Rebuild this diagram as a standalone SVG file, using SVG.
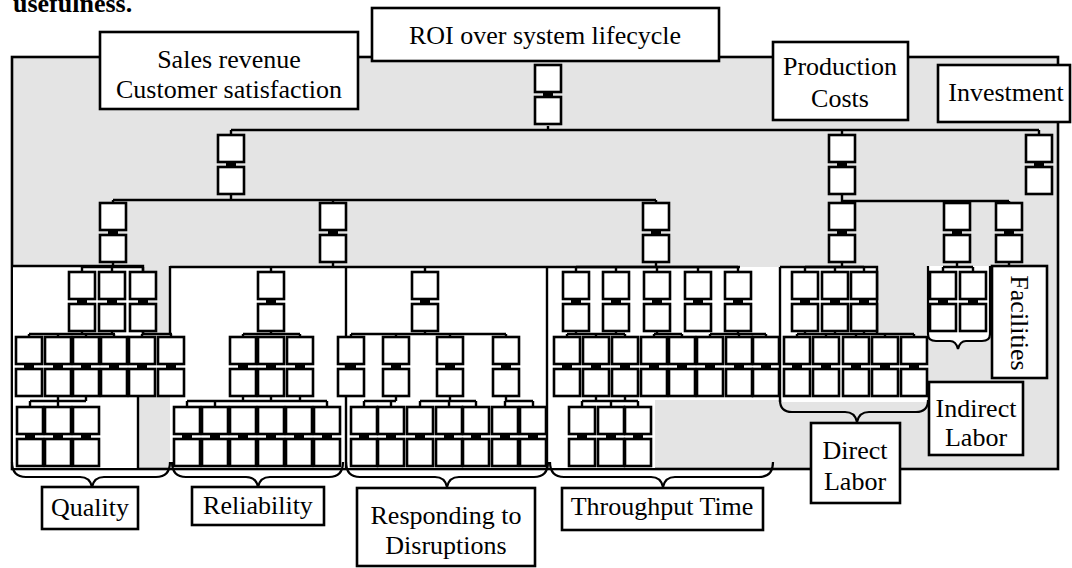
<svg xmlns="http://www.w3.org/2000/svg" xmlns:xlink="http://www.w3.org/1999/xlink" width="1072" height="568" viewBox="0 0 1072 568">
<style>
.b{fill:#fff;stroke:#000;stroke-width:2.6}
.k{fill:#000}
.c{fill:none;stroke:#000;stroke-width:2.4}
.p{fill:#fff;stroke:none}
.br{fill:none;stroke:#000;stroke-width:2.2}
.lb{fill:#fff;stroke:#000;stroke-width:2.6}
.t{font-family:"Liberation Serif","Times New Roman",serif;font-size:26px;text-anchor:middle;fill:#000}
</style>
<defs>
<g id="pair">
<rect class="b" x="0" y="0" width="26" height="27"/>
<rect class="k" x="8" y="26" width="10" height="7"/>
<rect class="b" x="0" y="32" width="26" height="27"/>
</g>
</defs>
<rect width="1072" height="568" fill="#fff"/>
<text x="13" y="12" style="font-family:'Liberation Serif',serif;font-size:26px;font-weight:bold">usefulness.</text>
<g id="frame">
<rect x="12" y="57" width="1046" height="412" fill="#e4e4e4" stroke="#000" stroke-width="2.6"/>
<polygon class="p" points="12,266 143,266 143,335 170,335 170,397 138,397 138,468 13,468 13,266"/>
<rect class="p" x="170" y="267" width="176" height="201"/>
<rect class="p" x="346" y="267" width="201" height="201"/>
<polygon class="p" points="547,267 780,267 780,400 655,400 655,468 547,468"/>
<polygon class="p" points="780,267 877,267 877,335 928,335 928,402 780,402"/>
<path class="p" d="M928,266 H990 V334 Q990,341 982,341 H966 Q960,341 958,349 Q956,341 950,341 H936 Q928,341 928,334 Z"/>
<path class="c" d="M12,266 H143 V335 M170,266 V335 M346,267 V469 M547,267 V469 M780,267 V402 M780,267 H877 V335 M138,397 V469 M170,267 H740"/>
<path class="br" d="M928,266 V334 Q928,341 936,341 H950 Q956,341 958,349 Q960,341 966,341 H982 Q990,341 990,334 V266"/>
</g>
<g id="connectors">
<path class="c" d="M548,126 V130 M231,130 H1039 M231,130 V135 M842,130 V135 M1039,130 V135"/>
<path class="c" d="M231,194 V200 M113,200 H656 M113,200 V203 M333,200 V203 M656,200 V203"/>
<path class="c" d="M842,194 V203 M842,201 H1009 M957,201 V203 M1009,201 V203"/>
<path class="c" d="M113,262 V267 M82,267 H143 M82,267 V272 M112,267 V272 M143,267 V272"/>
<path class="c" d="M333,262 V267 M271,267 V272 M425,267 V272"/>
<path class="c" d="M656,262 V267 M576,267 H738 M576,267 V272 M616,267 V272 M657,267 V272 M698,267 V272 M738,267 V272"/>
<path class="c" d="M842,262 V267 M805,267 H864 M805,267 V272 M835,267 V272 M864,267 V272"/>
<path class="c" d="M957,262 V267 M943,267 H973 M943,267 V272 M973,267 V272 M1009,262 V266"/>
<path class="c" d="M82,330 V334 M112,330 V334 M29,334 H115 M29,334 V337 M58,334 V337 M86,334 V337 M114,334 V337"/>
<path class="c" d="M143,330 V334 M142,334 H172 M142,334 V337 M171,334 V337"/>
<path class="c" d="M271,330 V334 M243,334 H300 M243,334 V337 M300,334 V337"/>
<path class="c" d="M425,330 V334 M351,334 H506 M351,334 V337 M396,334 V337 M450,334 V337 M506,334 V337"/>
<path class="c" d="M576,330 V334 M616,330 V334 M567,334 H625 M567,334 V337 M596,334 V337 M625,334 V337"/>
<path class="c" d="M657,330 V334 M654,334 H682 M654,334 V337 M682,334 V337"/>
<path class="c" d="M738,330 V334 M710,334 H766 M710,334 V337 M739,334 V337 M766,334 V337"/>
<path class="c" d="M805,330 V334 M835,330 V334 M864,330 V334 M797,334 H914 M797,334 V337 M826,334 V337 M856,334 V337 M885,334 V337 M914,334 V337"/>
<path class="c" d="M58,395 V401 M86,395 V401 M30,401 H86 M30,401 V406 M58,401 V406"/>
<path class="c" d="M243,395 V401 M271,395 V401 M300,395 V401 M187,401 H327 M187,401 V406 M215,401 V406 M327,401 V406"/>
<path class="c" d="M396,395 V401 M364,401 H396 M364,401 V406 M391,401 V406"/>
<path class="c" d="M450,395 V401 M420,401 H476 M420,401 V406 M449,401 V406 M476,401 V406"/>
<path class="c" d="M506,395 V401 M505,401 H533 M505,401 V406 M533,401 V406"/>
<path class="c" d="M596,395 V401 M625,395 V401 M582,401 H638 M582,401 V406 M611,401 V406 M638,401 V406"/>
</g>
<g id="braces">
<path class="br" d="M12,462 Q12,477 26,477 H80 Q90,477 92,487 Q94,477 104,477 H156 Q170,477 170,462"/>
<path class="br" d="M172,462 Q172,477 186,477 H246 Q256,477 258,487 Q260,477 270,477 H329 Q343,477 343,462"/>
<path class="br" d="M346,462 Q346,477 360,477 H435 Q445,477 447,487 Q449,477 459,477 H534 Q548,477 548,462"/>
<path class="br" d="M550,462 Q550,477 564,477 H651 Q661,477 663,487 Q665,477 675,477 H759 Q773,477 773,462"/>
<path class="br" d="M780,400 Q780,412 792,412 H845 Q855,412 857,422 Q859,412 869,412 H916 Q928,412 928,400"/>
</g>
<g id="nodes">
<g id="n-root"><use xlink:href="#pair" x="535" y="65"/></g>
<g id="n-sales"><use xlink:href="#pair" x="218" y="135"/></g>
<g id="n-prod"><use xlink:href="#pair" x="829" y="135"/></g>
<g id="n-inv"><use xlink:href="#pair" x="1026" y="135"/></g>
<g id="n-l2"><use xlink:href="#pair" x="100" y="203"/><use xlink:href="#pair" x="320" y="203"/><use xlink:href="#pair" x="643" y="203"/><use xlink:href="#pair" x="829" y="203"/><use xlink:href="#pair" x="944" y="203"/><use xlink:href="#pair" x="996" y="203"/></g>
<g id="n-l3"><use xlink:href="#pair" x="69" y="272"/><use xlink:href="#pair" x="99" y="272"/><use xlink:href="#pair" x="130" y="272"/><use xlink:href="#pair" x="258" y="272"/><use xlink:href="#pair" x="412" y="272"/><use xlink:href="#pair" x="563" y="272"/><use xlink:href="#pair" x="603" y="272"/><use xlink:href="#pair" x="644" y="272"/><use xlink:href="#pair" x="685" y="272"/><use xlink:href="#pair" x="725" y="272"/><use xlink:href="#pair" x="792" y="272"/><use xlink:href="#pair" x="822" y="272"/><use xlink:href="#pair" x="851" y="272"/><use xlink:href="#pair" x="930" y="272"/><use xlink:href="#pair" x="960" y="272"/></g>
<g id="n-l4"><use xlink:href="#pair" x="16" y="337"/><use xlink:href="#pair" x="45" y="337"/><use xlink:href="#pair" x="73" y="337"/><use xlink:href="#pair" x="101" y="337"/><use xlink:href="#pair" x="129" y="337"/><use xlink:href="#pair" x="158" y="337"/><use xlink:href="#pair" x="230" y="337"/><use xlink:href="#pair" x="258" y="337"/><use xlink:href="#pair" x="287" y="337"/><use xlink:href="#pair" x="338" y="337"/><use xlink:href="#pair" x="383" y="337"/><use xlink:href="#pair" x="437" y="337"/><use xlink:href="#pair" x="493" y="337"/><use xlink:href="#pair" x="554" y="337"/><use xlink:href="#pair" x="583" y="337"/><use xlink:href="#pair" x="612" y="337"/><use xlink:href="#pair" x="641" y="337"/><use xlink:href="#pair" x="669" y="337"/><use xlink:href="#pair" x="697" y="337"/><use xlink:href="#pair" x="726" y="337"/><use xlink:href="#pair" x="753" y="337"/><use xlink:href="#pair" x="784" y="337"/><use xlink:href="#pair" x="813" y="337"/><use xlink:href="#pair" x="843" y="337"/><use xlink:href="#pair" x="872" y="337"/><use xlink:href="#pair" x="901" y="337"/></g>
<g id="n-l5"><use xlink:href="#pair" x="17" y="407"/><use xlink:href="#pair" x="45" y="407"/><use xlink:href="#pair" x="73" y="407"/><use xlink:href="#pair" x="174" y="407"/><use xlink:href="#pair" x="202" y="407"/><use xlink:href="#pair" x="230" y="407"/><use xlink:href="#pair" x="258" y="407"/><use xlink:href="#pair" x="286" y="407"/><use xlink:href="#pair" x="314" y="407"/><use xlink:href="#pair" x="351" y="407"/><use xlink:href="#pair" x="378" y="407"/><use xlink:href="#pair" x="407" y="407"/><use xlink:href="#pair" x="436" y="407"/><use xlink:href="#pair" x="463" y="407"/><use xlink:href="#pair" x="492" y="407"/><use xlink:href="#pair" x="520" y="407"/><use xlink:href="#pair" x="569" y="407"/><use xlink:href="#pair" x="598" y="407"/><use xlink:href="#pair" x="625" y="407"/></g>
</g>
<g id="lbl-sales"><rect class="lb" x="100" y="32" width="258" height="77"/><text class="t" x="229" y="68">Sales revenue</text><text class="t" x="229" y="98">Customer satisfaction</text></g>
<g id="lbl-roi"><rect class="lb" x="372" y="8" width="347" height="53"/><text class="t" x="545" y="44">ROI over system lifecycle</text></g>
<g id="lbl-prod"><rect class="lb" x="773" y="42" width="135" height="78"/><text class="t" x="840" y="75">Production</text><text class="t" x="840" y="107">Costs</text></g>
<g id="lbl-inv"><rect class="lb" x="938" y="65" width="132" height="57"/><text class="t" x="1006" y="101">Investment</text></g>
<g id="lbl-fac"><rect class="lb" x="992" y="266" width="55" height="112"/><text class="t" transform="translate(1011,323) rotate(90)" x="0" y="0">Facilities</text></g>
<g id="lbl-ind"><rect class="lb" x="929" y="382" width="94" height="73"/><text class="t" x="976" y="417">Indirect</text><text class="t" x="976" y="446">Labor</text></g>
<g id="lbl-dir"><rect class="lb" x="811" y="423" width="89" height="80"/><text class="t" x="855" y="459">Direct</text><text class="t" x="855" y="490">Labor</text></g>
<g id="lbl-q"><rect class="lb" x="42" y="487" width="96" height="42"/><text class="t" x="90" y="516">Quality</text></g>
<g id="lbl-r"><rect class="lb" x="192" y="487" width="132" height="38"/><text class="t" x="258" y="514">Reliability</text></g>
<g id="lbl-d"><rect class="lb" x="357" y="488" width="178" height="78"/><text class="t" x="446" y="524">Responding to</text><text class="t" x="446" y="554">Disruptions</text></g>
<g id="lbl-t"><rect class="lb" x="562" y="488" width="201" height="42"/><text class="t" x="662" y="515">Throughput Time</text></g>
</svg>
